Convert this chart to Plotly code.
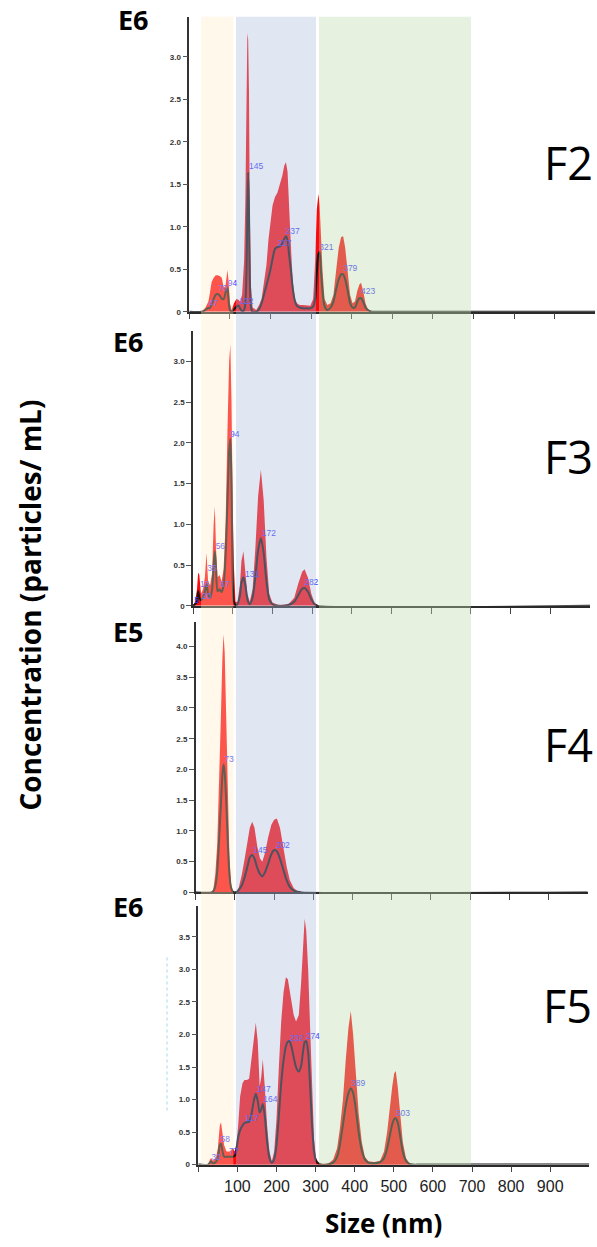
import plotly.graph_objects as go

# ------------------------------------------------------------------ data
# F2 (E6 scale)
f2_size = [0, 30, 40, 44, 47, 50, 55, 60, 65, 70,
           75, 80, 85, 89, 92, 94, 97, 100, 104, 110,
           116, 121, 125, 130, 135, 138, 141, 143, 145, 147,
           149, 152, 156, 165, 172, 178, 184, 190, 195, 200,
           205, 211, 217, 223, 229, 234, 238, 242, 246, 250,
           255, 260, 265, 272, 280, 290, 298, 305, 310, 314,
           318, 321, 324, 328, 333, 340, 348, 355, 362, 368,
           374, 379, 384, 390, 396, 402, 408, 414, 419, 423,
           428, 434, 440, 450, 470, 1000]
f2_mean = [0, 0, 0.02, 0.04, 0.045, 0.04, 0.08, 0.15, 0.2, 0.21,
           0.19, 0.15, 0.15, 0.22, 0.27, 0.27, 0.12, 0.02, 0.0, 0.03,
           0.06, 0.075, 0.04, 0.01, 0.02, 0.1, 0.5, 1.2, 1.64, 1.2,
           0.4, 0.05, 0.0, 0.0, 0.03, 0.1, 0.2, 0.31, 0.4, 0.5,
           0.62, 0.74, 0.76, 0.77, 0.8, 0.86, 0.89, 0.84, 0.66, 0.5,
           0.27, 0.13, 0.07, 0.05, 0.04, 0.04, 0.04, 0.06, 0.15, 0.45,
           0.68, 0.7, 0.5, 0.25, 0.07, 0.02, 0.05, 0.12, 0.27, 0.38,
           0.44, 0.44, 0.38, 0.25, 0.1, 0.05, 0.05, 0.12, 0.16, 0.16,
           0.12, 0.05, 0.02, 0.0, 0, 0]
f2_upper = [0, 0, 0.05, 0.1, 0.12, 0.2, 0.35, 0.4, 0.43, 0.43,
            0.42, 0.4, 0.28, 0.3, 0.48, 0.49, 0.35, 0.1, 0.02, 0.1,
            0.15, 0.14, 0.12, 0.2, 0.6, 1.3, 2.5, 3.28, 3.2, 2.6,
            1.2, 0.3, 0.05, 0.02, 0.08, 0.15, 0.35, 0.55, 0.85, 1.05,
            1.25, 1.35, 1.4, 1.5, 1.6, 1.72, 1.76, 1.65, 1.3, 0.8,
            0.35, 0.15, 0.1, 0.08, 0.08, 0.07, 0.07, 0.15, 0.6, 1.2,
            1.39, 1.25, 0.9, 0.5, 0.15, 0.08, 0.1, 0.2, 0.5, 0.75,
            0.88, 0.89, 0.75, 0.45, 0.2, 0.1, 0.12, 0.25, 0.32, 0.34,
            0.25, 0.1, 0.03, 0, 0, 0]
f2_peak_text = ["47", "70", "94", "122", "145", "217", "237", "321", "379", "423"]
f2_peak_x = [47, 71, 94.5, 123, 147, 217, 237, 320, 379, 423]
f2_peak_y = [0.09, 0.27, 0.33, 0.12, 1.70, 0.80, 0.94, 0.75, 0.50, 0.23]

# F3 (E6 scale)
f3_size = [0, 5, 10, 13, 16, 20, 25, 30, 34, 38,
           43, 48, 52, 55, 58, 62, 67, 72, 77, 82,
           87, 91, 94, 97, 100, 103, 107, 112, 118, 122,
           127, 132, 137, 143, 150, 157, 164, 171, 178, 185,
           192, 200, 215, 240, 255, 265, 275, 281, 290, 298,
           306, 315, 1000]
f3_mean = [0, 0.02, 0.05, 0.18, 0.1, 0.07, 0.1, 0.18, 0.27, 0.15,
           0.1, 0.2, 0.5, 0.67, 0.45, 0.18, 0.2, 0.17, 0.25, 0.6,
           1.3, 1.9, 2.05, 1.5, 0.3, 0.05, 0.01, 0.02, 0.12, 0.28,
           0.35, 0.25, 0.08, 0.02, 0.1, 0.35, 0.68, 0.83, 0.65, 0.3,
           0.08, 0.02, 0.0, 0.01, 0.05, 0.13, 0.21, 0.22, 0.17, 0.08,
           0.02, 0, 0]
f3_upper = [0, 0.05, 0.2, 0.41, 0.38, 0.15, 0.2, 0.35, 0.65, 0.3,
            0.25, 0.4, 1.0, 1.22, 0.7, 0.35, 0.38, 0.3, 0.45, 1.0,
            2.2, 3.0, 3.21, 2.5, 1.25, 0.5, 0.05, 0.05, 0.25, 0.55,
            0.67, 0.45, 0.15, 0.05, 0.2, 0.7, 1.35, 1.67, 1.3, 0.6,
            0.15, 0.04, 0.01, 0.02, 0.1, 0.27, 0.42, 0.45, 0.34, 0.15,
            0.04, 0, 0]
f3_peak_text = ["5", "20", "16", "35", "56", "67", "94", "131", "172", "282"]
f3_peak_x = [3, 22, 17.6, 36, 57, 68, 93, 131, 173, 280]
f3_peak_y = [0.06, 0.11, 0.26, 0.45, 0.72, 0.26, 2.10, 0.38, 0.88, 0.28]

# F4 (E5 scale)
f4_size = [0, 40, 45, 50, 55, 60, 64, 68, 71, 74,
           78, 82, 86, 90, 95, 100, 105, 110, 118, 125,
           132, 138, 144, 150, 157, 164, 170, 177, 185, 193,
           200, 207, 215, 223, 232, 240, 250, 260, 270, 1000]
f4_mean = [0, 0, 0.02, 0.1, 0.35, 0.9, 1.4, 1.9, 2.08, 1.95,
           1.45, 0.8, 0.3, 0.08, 0.01, 0, 0.01, 0.04, 0.12, 0.25,
           0.42, 0.57, 0.61, 0.55, 0.4, 0.3, 0.26, 0.33, 0.47, 0.62,
           0.69, 0.67, 0.55, 0.38, 0.2, 0.09, 0.03, 0.01, 0, 0]
f4_upper = [0, 0, 0.05, 0.3, 0.8, 1.8, 2.8, 3.8, 4.2, 3.9,
            2.9, 1.6, 0.6, 0.15, 0.02, 0, 0.02, 0.08, 0.3, 0.55,
            0.85, 1.05, 1.15, 1.05, 0.75, 0.55, 0.5, 0.65, 0.9, 1.1,
            1.18, 1.2, 1.05, 0.75, 0.42, 0.2, 0.07, 0.02, 0, 0]
f4_peak_text = ["73", "145", "202"]
f4_peak_x = [73, 147, 204]
f4_peak_y = [2.16, 0.68, 0.76]

# F5 (E6 scale)
f5_size = [0, 25, 30, 33, 37, 45, 50, 55, 58, 62,
           66, 72, 80, 88, 94, 98, 102, 107, 113, 118,
           124, 130, 136, 142, 147, 152, 157, 161, 165, 170,
           176, 182, 188, 194, 200, 206, 212, 218, 224, 229,
           233, 238, 244, 250, 257, 263, 268, 272, 276, 281,
           286, 291, 296, 301, 307, 315, 330, 345, 355, 362,
           370, 377, 384, 390, 396, 403, 410, 418, 426, 435,
           450, 465, 475, 483, 490, 496, 501, 505, 510, 516,
           523, 531, 540, 550, 560, 1000]
f5_mean = [0, 0, 0.03, 0.05, 0.02, 0.04, 0.1, 0.3, 0.32, 0.2,
           0.12, 0.12, 0.12, 0.12, 0.14, 0.25, 0.42, 0.53, 0.6, 0.64,
           0.65, 0.66, 0.78, 0.98, 1.09, 0.98, 0.8, 0.85, 0.93, 0.75,
           0.35, 0.1, 0.03, 0.08, 0.3, 0.75, 1.25, 1.6, 1.82, 1.89,
           1.9, 1.82, 1.65, 1.5, 1.43, 1.52, 1.75, 1.88, 1.9, 1.72,
           1.2, 0.6, 0.2, 0.06, 0.02, 0.0, 0.0, 0.03, 0.12, 0.3,
           0.62, 0.9, 1.1, 1.17, 1.1, 0.85, 0.5, 0.22, 0.08, 0.03,
           0.02, 0.04, 0.1, 0.25, 0.45, 0.62, 0.7, 0.71, 0.65, 0.45,
           0.2, 0.06, 0.01, 0, 0, 0]
f5_upper = [0, 0, 0.08, 0.1, 0.06, 0.1, 0.25, 0.6, 0.65, 0.5,
            0.3, 0.2, 0.2, 0.25, 0.2, 0.35, 0.6, 1.05, 1.25, 1.3,
            1.3, 1.32, 1.6, 1.95, 2.18, 1.9, 1.2, 1.35, 1.62, 1.2,
            0.6, 0.2, 0.05, 0.2, 0.7, 1.5, 2.2, 2.65, 2.88, 2.85,
            2.7, 2.5, 2.3, 2.2, 2.3, 2.8, 3.4, 3.78, 3.6, 3.0,
            2.1, 1.1, 0.4, 0.1, 0.03, 0, 0, 0.08, 0.25, 0.55,
            1.0, 1.6, 2.1, 2.36, 2.0, 1.4, 0.8, 0.35, 0.12, 0.05,
            0.04, 0.06, 0.2, 0.5, 0.9, 1.2, 1.4, 1.44, 1.2, 0.8,
            0.35, 0.1, 0.02, 0, 0, 0]
f5_peak_text = ["32", "58", "77", "117", "147", "164", "232", "274", "389", "503"]
f5_peak_x = [34, 57, 78.5, 119, 149, 166, 233, 274.6, 390.5, 505]
f5_peak_y = [0.11, 0.38, 0.19, 0.71, 1.15, 1.0, 1.94, 1.96, 1.24, 0.78]

fractions = ["F2", "F3", "F4", "F5"]
exponents = ["E6", "E6", "E5", "E6"]

x_tickvals = [0, 100, 200, 300, 400, 500, 600, 700, 800, 900]
x_ticktext = ["", "100", "200", "300", "400", "500", "600", "700", "800", "900"]
y_ticks_3 = [0, 0.5, 1.0, 1.5, 2.0, 2.5, 3.0]
y_ticks_3_text = ["0", "0.5", "1.0", "1.5", "2.0", "2.5", "3.0"]
y_ticks_4 = [0, 0.5, 1.0, 1.5, 2.0, 2.5, 3.0, 3.5, 4.0]
y_ticks_4_text = ["0", "0.5", "1.0", "1.5", "2.0", "2.5", "3.0", "3.5", "4.0"]
y_ticks_35 = [0, 0.5, 1.0, 1.5, 2.0, 2.5, 3.0, 3.5]
y_ticks_35_text = ["0", "0.5", "1.0", "1.5", "2.0", "2.5", "3.0", "3.5"]

# ------------------------------------------------------------------ figure
W, H = 597, 1247
RED = "rgb(250,10,15)"
LINE = "#151515"
LABEL = "#3a3aff"

panels = [
    dict(size=f2_size, mean=f2_mean, upper=f2_upper, lt=f2_peak_text, lx=f2_peak_x, ly=f2_peak_y,
         yt=y_ticks_3, ytt=y_ticks_3_text, ymax=3.47, xd=(189.3, 595.3), yd=(17, 313),
         epos=(133, 20), fpos=(568, 163)),
    dict(size=f3_size, mean=f3_mean, upper=f3_upper, lt=f3_peak_text, lx=f3_peak_x, ly=f3_peak_y,
         yt=y_ticks_3, ytt=y_ticks_3_text, ymax=3.37, xd=(193.0, 590.0), yd=(332.7, 608.3),
         epos=(128, 343), fpos=(568, 458)),
    dict(size=f4_size, mean=f4_mean, upper=f4_upper, lt=f4_peak_text, lx=f4_peak_x, ly=f4_peak_y,
         yt=y_ticks_4, ytt=y_ticks_4_text, ymax=4.39, xd=(195.7, 587.7), yd=(625, 896),
         epos=(128, 634), fpos=(568, 747)),
    dict(size=f5_size, mean=f5_mean, upper=f5_upper, lt=f5_peak_text, lx=f5_peak_x, ly=f5_peak_y,
         yt=y_ticks_35, ytt=y_ticks_35_text, ymax=3.97, xd=(198.3, 589.3), yd=(910, 1169.3),
         epos=(128, 910), fpos=(567, 1010)),
]

fig = go.Figure()
layout = dict(
    width=W, height=H, margin=dict(l=0, r=0, t=0, b=0),
    paper_bgcolor="white", plot_bgcolor="rgba(0,0,0,0)", showlegend=False,
    font=dict(family="Arial", color="#222"),
)
annotations = []

for i, p in enumerate(panels, start=1):
    s = "" if i == 1 else str(i)
    xa, ya = "x" + s, "y" + s
    fig.add_trace(go.Scatter(x=p["size"], y=p["upper"], mode="lines", fill="tozeroy",
                             fillcolor=RED, line=dict(width=0, color=RED),
                             xaxis=xa, yaxis=ya, hoverinfo="skip"))
    if i == 4:
        nz = [x for x, v in zip(p["size"], p["upper"]) if v > 0]
        fig.add_trace(go.Scatter(x=[min(nz), max(nz)], y=[0, 0], mode="lines",
                                 line=dict(color=RED, width=1.5), xaxis=xa, yaxis=ya,
                                 hoverinfo="skip"))
    fig.add_trace(go.Scatter(x=p["size"], y=p["mean"], mode="lines",
                             line=dict(color=LINE, width=2, shape="spline", smoothing=0.7),
                             xaxis=xa, yaxis=ya, hoverinfo="skip"))
    fig.add_trace(go.Scatter(x=p["lx"], y=p["ly"], text=p["lt"], mode="text",
                             textposition="middle right",
                             textfont=dict(family="Arial", size=8.5, color=LABEL),
                             xaxis=xa, yaxis=ya, hoverinfo="skip"))
    layout["xaxis" + s] = dict(
        domain=[p["xd"][0] / W, p["xd"][1] / W], range=[0, 1000], anchor=ya,
        showgrid=False, zeroline=False, showline=True, linecolor="#2a2a2a", linewidth=1.5,
        ticks="outside", ticklen=6, tickwidth=1, tickcolor="#444",
        tickvals=x_tickvals, ticktext=x_ticktext, showticklabels=(i == 4),
        tickfont=dict(family="Arial", size=16, color="#222"), fixedrange=True)
    layout["yaxis" + s] = dict(
        domain=[1 - p["yd"][1] / H, 1 - p["yd"][0] / H], range=[0, p["ymax"]], anchor=xa,
        showgrid=False, zeroline=False, showline=True, linecolor="#333", linewidth=1.5,
        ticks="outside", ticklen=5, tickwidth=1, tickcolor="#555",
        tickvals=p["yt"], ticktext=["<b>%s</b>" % t for t in p["ytt"]],
        tickfont=dict(family="Arial", size=8, color="#333"), fixedrange=True)
    annotations.append(dict(text="<b>%s</b>" % exponents[i - 1], x=p["epos"][0] / W,
                            y=1 - p["epos"][1] / H, xref="paper", yref="paper",
                            showarrow=False, xanchor="center", yanchor="middle",
                            font=dict(family="Open Sans", size=27, color="black")))
    annotations.append(dict(text=fractions[i - 1], x=p["fpos"][0] / W,
                            y=1 - p["fpos"][1] / H, xref="paper", yref="paper",
                            showarrow=False, xanchor="center", yanchor="middle",
                            font=dict(family="Open Sans", size=45, color="black")))

annotations.append(dict(text="<b>Concentration (particles/ mL)</b>", x=30 / W, y=1 - 608 / H,
                        xref="paper", yref="paper", showarrow=False, textangle=-90,
                        xanchor="center", yanchor="middle",
                        font=dict(family="Open Sans", size=28, color="black")))
annotations.append(dict(text="<b>Size (nm)</b>", x=383 / W, y=1 - 1228 / H,
                        xref="paper", yref="paper", showarrow=False,
                        xanchor="center", yanchor="middle",
                        font=dict(family="Open Sans", size=26, color="black")))

# translucent size-class bands drawn over everything
y_top, y_bot = 1 - 16.7 / H, 1 - 1169.5 / H
bands = [
    (201, 233.3, "rgba(255,235,197,0.34)"),
    (236, 316, "rgba(173,189,219,0.37)"),
    (319, 471, "rgba(190,218,172,0.39)"),
]
shapes = [dict(type="rect", xref="paper", yref="paper", x0=a / W, x1=b / W, y0=y_bot, y1=y_top,
               fillcolor=c, line=dict(width=0), layer="above") for a, b, c in bands]
shapes.append(dict(type="line", xref="paper", yref="paper", x0=167 / W, x1=167 / W,
                   y0=1 - 1115 / H, y1=1 - 960 / H,
                   line=dict(color="rgba(120,200,235,0.7)", width=1, dash="dot")))

layout["annotations"] = annotations
layout["shapes"] = shapes
fig.update_layout(**layout)
fig.write_html("out.html")
